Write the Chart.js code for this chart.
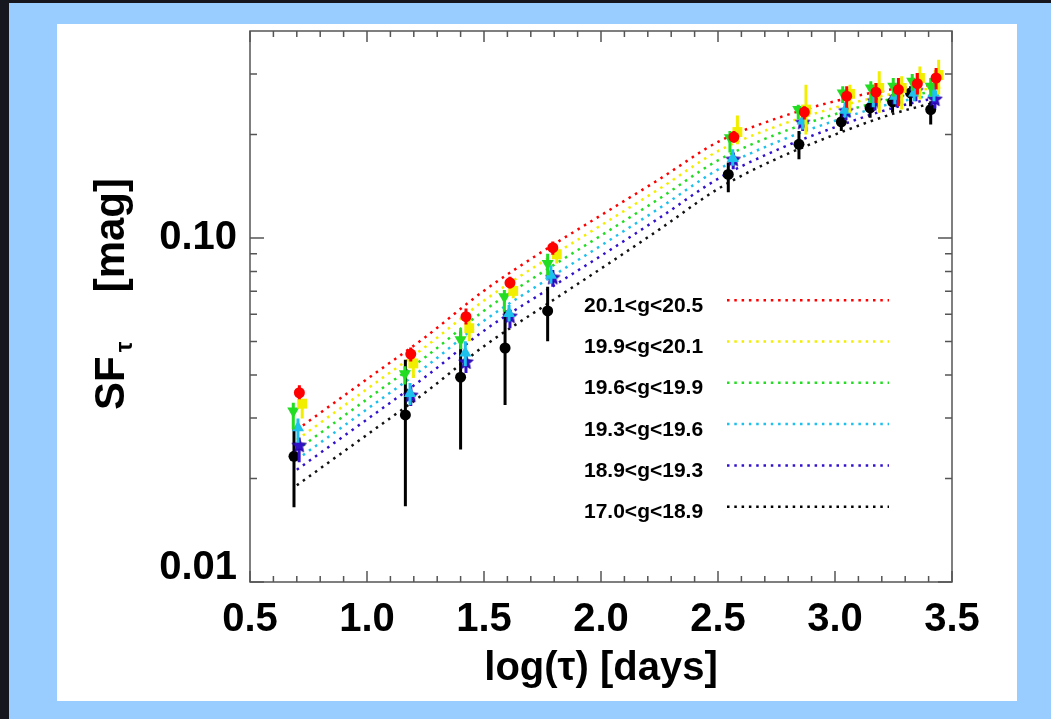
<!DOCTYPE html>
<html>
<head>
<meta charset="utf-8">
<script src="https://cdn.jsdelivr.net/npm/chart.js@4.4.0/dist/chart.umd.min.js"></script>
<style>
  html, body { margin: 0; padding: 0; background: #16161f; width: 1051px; height: 719px; overflow: hidden; }
  #frame { position: absolute; left: 9px; top: 3px; width: 1042px; height: 716px; background: #99ccff; }
  #panel { position: absolute; left: 57px; top: 24px; width: 960px; height: 677px; background: #fff; }
</style>
</head>
<body>
<div id="frame"></div>
<div id="panel"><canvas id="sf"></canvas></div>
<script>
// --- magnitude bins (legend order) ---
const binLabels = ['20.1<g<20.5', '19.9<g<20.1', '19.6<g<19.9', '19.3<g<19.6', '18.9<g<19.3', '17.0<g<18.9'];

// --- measured SF per bin: x = log(tau), y = SF, lo/hi = error bar ends ---
const redX   = [0.711, 1.187, 1.423, 1.611, 1.794, 2.568, 2.869, 3.050, 3.175, 3.271, 3.352, 3.432];
const redY   = [0.0355, 0.0460, 0.0591, 0.0741, 0.0938, 0.1967, 0.2324, 0.2585, 0.2655, 0.2702, 0.2811, 0.2920];
const redLo  = [0.0340, 0.0438, 0.0561, 0.0714, 0.0895, 0.1894, 0.2212, 0.2391, 0.2472, 0.2418, 0.2613, 0.2702];
const redHi  = [0.0373, 0.0481, 0.0624, 0.0772, 0.0978, 0.2048, 0.2418, 0.2763, 0.2825, 0.2920, 0.3019, 0.3121];

const yelX   = [0.723, 1.198, 1.437, 1.625, 1.811, 2.583, 2.876, 3.064, 3.189, 3.285, 3.363, 3.443];
const yelY   = [0.0330, 0.0432, 0.0547, 0.0702, 0.0897, 0.2034, 0.2364, 0.2626, 0.2732, 0.2732, 0.2920, 0.2979];
const yelLo  = [0.0299, 0.0392, 0.0501, 0.0668, 0.0843, 0.1873, 0.2002, 0.2313, 0.2313, 0.2364, 0.2527, 0.2613];
const yelHi  = [0.0340, 0.0448, 0.0580, 0.0734, 0.0936, 0.2272, 0.2793, 0.2793, 0.3053, 0.2953, 0.3156, 0.3298];

const grnX   = [0.685, 1.162, 1.400, 1.587, 1.772, 2.551, 2.843, 3.033, 3.153, 3.249, 3.330, 3.409];
const grnY   = [0.0314, 0.0403, 0.0506, 0.0675, 0.0843, 0.1958, 0.2364, 0.2642, 0.2732, 0.2763, 0.2857, 0.2763];
const grnLo  = [0.0278, 0.0375, 0.0475, 0.0611, 0.0780, 0.1773, 0.2212, 0.2472, 0.2472, 0.2580, 0.2680, 0.2580];
const grnHi  = [0.0332, 0.0424, 0.0543, 0.0706, 0.0901, 0.2048, 0.2443, 0.2763, 0.2857, 0.2920, 0.3000, 0.2920];

const cyaX   = [0.705, 1.184, 1.420, 1.607, 1.786, 2.563, 2.862, 3.043, 3.164, 3.256, 3.338, 3.423];
const cyaY   = [0.0281, 0.0353, 0.0463, 0.0604, 0.0780, 0.1703, 0.2189, 0.2355, 0.2527, 0.2585, 0.2642, 0.2642];
const cyaLo  = [0.0254, 0.0327, 0.0424, 0.0572, 0.0738, 0.1622, 0.2069, 0.2240, 0.2400, 0.2450, 0.2500, 0.2500];
const cyaHi  = [0.0299, 0.0379, 0.0501, 0.0639, 0.0834, 0.1812, 0.2313, 0.2480, 0.2660, 0.2720, 0.2790, 0.2790];

const bluX   = [0.710, 1.187, 1.423, 1.611, 1.794, 2.565, 2.862, 3.047, 3.171, 3.264, 3.346, 3.427];
const bluY   = [0.0249, 0.0348, 0.0435, 0.0591, 0.0766, 0.1689, 0.2164, 0.2339, 0.2500, 0.2556, 0.2677, 0.2527];
const bluLo  = [0.0223, 0.0325, 0.0405, 0.0547, 0.0722, 0.1586, 0.2048, 0.2200, 0.2350, 0.2400, 0.2500, 0.2380];
const bluHi  = [0.0263, 0.0372, 0.0468, 0.0619, 0.0807, 0.1773, 0.2287, 0.2480, 0.2650, 0.2720, 0.2850, 0.2680];

const blkX   = [0.688, 1.164, 1.400, 1.590, 1.772, 2.544, 2.846, 3.027, 3.150, 3.246, 3.323, 3.409];
const blkY   = [0.0232, 0.0306, 0.0394, 0.0479, 0.0614, 0.1531, 0.1873, 0.2178, 0.2391, 0.2489, 0.2642, 0.2364];
const blkLo  = [0.0165, 0.0166, 0.0243, 0.0327, 0.0501, 0.1358, 0.1695, 0.2048, 0.2237, 0.2313, 0.2418, 0.2140];
const blkHi  = [0.0281, 0.0443, 0.0535, 0.0618, 0.0722, 0.1659, 0.2048, 0.2313, 0.2527, 0.2613, 0.2763, 0.2500];

// --- model curves (dotted), read at these log(tau) values ---
const modelX   = [0.70, 1.00, 1.25, 1.50, 1.75, 2.00, 2.25, 2.50, 2.75, 3.00, 3.25, 3.45];
const redFit   = [0.0277, 0.0389, 0.0516, 0.0703, 0.0914, 0.1165, 0.1484, 0.1904, 0.2227, 0.2500, 0.2714, 0.2800];
const yelFit   = [0.0259, 0.0364, 0.0483, 0.0658, 0.0853, 0.1089, 0.1391, 0.1790, 0.2112, 0.2394, 0.2630, 0.2742];
const grnFit   = [0.0242, 0.0340, 0.0451, 0.0615, 0.0796, 0.1017, 0.1303, 0.1683, 0.2003, 0.2292, 0.2548, 0.2685];
const cyaFit   = [0.0227, 0.0318, 0.0422, 0.0575, 0.0743, 0.0951, 0.1222, 0.1582, 0.1900, 0.2194, 0.2469, 0.2629];
const bluFit   = [0.0212, 0.0297, 0.0395, 0.0538, 0.0693, 0.0888, 0.1145, 0.1487, 0.1802, 0.2100, 0.2392, 0.2575];
const blkFit   = [0.0191, 0.0268, 0.0356, 0.0485, 0.0630, 0.0815, 0.1060, 0.1390, 0.1700, 0.2000, 0.2300, 0.2500];

// --- axis ticks ---
const xLabelTicks = [0.5, 1.0, 1.5, 2.0, 2.5, 3.0, 3.5];
const xMinorTicks = [0.6, 0.7, 0.8, 0.9, 1.1, 1.2, 1.3, 1.4, 1.6, 1.7, 1.8, 1.9, 2.1, 2.2, 2.3, 2.4,
                     2.6, 2.7, 2.8, 2.9, 3.1, 3.2, 3.3, 3.4];
const yLabelTicks = [0.01, 0.1];
const yMinorTicks = [0.02, 0.03, 0.04, 0.05, 0.06, 0.07, 0.08, 0.09, 0.2, 0.3];

const COLORS = {
  red:    '#ff0000',
  yellow: '#f2ee00',
  green:  '#22dd22',
  cyan:   '#1ec0ec',
  blue:   '#3311cc',
  black:  '#000000',
};

function makeStar(r, color) {
  const c = document.createElement('canvas');
  const s = Math.ceil(r * 2 + 2);
  c.width = c.height = s;
  const g = c.getContext('2d');
  g.beginPath();
  for (let i = 0; i < 10; i++) {
    const rr = i % 2 ? r * 0.45 : r;
    const a = -Math.PI / 2 + i * Math.PI / 5;
    g.lineTo(s / 2 + rr * Math.cos(a), s / 2 + rr * Math.sin(a));
  }
  g.closePath();
  g.fillStyle = color;
  g.fill();
  g.lineWidth = 1;
  g.strokeStyle = '#22009a';
  g.stroke();
  return c;
}

const pts = (xs, ys) => xs.map((x, i) => ({ x, y: ys[i] }));
const bars = (xs, lo, hi) => xs.flatMap((x, i) => [{ x, y: lo[i] }, { x, y: hi[i] }, { x, y: null }]);

const series = [
  { key: 'red',    x: redX, y: redY, lo: redLo, hi: redHi, fit: redFit, style: 'circle',   radius: 5.5, rot: 0 },
  { key: 'yellow', x: yelX, y: yelY, lo: yelLo, hi: yelHi, fit: yelFit, style: 'rect',     radius: 7,   rot: 0 },
  { key: 'green',  x: grnX, y: grnY, lo: grnLo, hi: grnHi, fit: grnFit, style: 'triangle', radius: 7,   rot: 180 },
  { key: 'cyan',   x: cyaX, y: cyaY, lo: cyaLo, hi: cyaHi, fit: cyaFit, style: 'triangle', radius: 7,   rot: 0 },
  { key: 'blue',   x: bluX, y: bluY, lo: bluLo, hi: bluHi, fit: bluFit, style: makeStar(7.5, COLORS.blue), radius: 7, rot: 0 },
  { key: 'black',  x: blkX, y: blkY, lo: blkLo, hi: blkHi, fit: blkFit, style: 'circle',   radius: 5.5, rot: 0 },
];

const datasets = [];
series.forEach((s, i) => {
  const col = COLORS[s.key];
  datasets.push({
    label: binLabels[i],
    data: pts(s.x, s.y),
    pointStyle: s.style,
    pointRadius: s.radius,
    pointRotation: s.rot,
    backgroundColor: col,
    borderColor: col,
    pointBorderWidth: 0,
    order: 10 * i + 1,
  });
  datasets.push({
    label: binLabels[i] + ' err',
    data: bars(s.x, s.lo, s.hi),
    showLine: true,
    spanGaps: false,
    pointRadius: 0,
    borderColor: col,
    borderWidth: 3,
    order: 10 * i + 2,
  });
  datasets.push({
    label: binLabels[i] + ' fit',
    data: pts(modelX, s.fit),
    showLine: true,
    pointRadius: 0,
    borderColor: col === '#000000' ? '#111' : col,
    borderWidth: 2.5,
    borderDash: [2.5, 5],
    cubicInterpolationMode: 'monotone',
    order: 100 + i,
  });
});

// frame with inward ticks, like the original plot
const frameTicks = {
  id: 'frameTicks',
  beforeDatasetsDraw(chart) {
    const { ctx, chartArea: a, scales: { x, y } } = chart;
    ctx.save();
    ctx.strokeStyle = '#555';
    ctx.lineWidth = 1.5;
    ctx.strokeRect(a.left, a.top, a.right - a.left, a.bottom - a.top);
    ctx.beginPath();
    const xt = (v, len) => {
      const px = x.getPixelForValue(v);
      ctx.moveTo(px, a.bottom); ctx.lineTo(px, a.bottom - len);
      ctx.moveTo(px, a.top);    ctx.lineTo(px, a.top + len);
    };
    const yt = (v, len) => {
      const py = y.getPixelForValue(v);
      ctx.moveTo(a.left, py);  ctx.lineTo(a.left + len, py);
      ctx.moveTo(a.right, py); ctx.lineTo(a.right - len, py);
    };
    xLabelTicks.forEach(v => xt(v, 11));
    xMinorTicks.forEach(v => xt(v, 6));
    yLabelTicks.forEach(v => yt(v, 14));
    yMinorTicks.forEach(v => yt(v, 7));
    ctx.stroke();
    ctx.restore();
  }
};

// legend: label on the left, dotted sample on the right
const sideLegend = {
  id: 'sideLegend',
  afterDatasetsDraw(chart) {
    const { ctx } = chart;
    ctx.save();
    ctx.font = 'bold 21px "Liberation Sans", Arial, sans-serif';
    ctx.textBaseline = 'alphabetic';
    ctx.fillStyle = '#000';
    series.forEach((s, i) => {
      const base = 287.7 + i * 41.3;
      ctx.fillText(binLabels[i], 527, base);
      ctx.beginPath();
      ctx.setLineDash([2.5, 4.8]);
      ctx.lineWidth = 2.5;
      ctx.strokeStyle = COLORS[s.key];
      ctx.moveTo(670, base - 11.5);
      ctx.lineTo(832, base - 11.5);
      ctx.stroke();
    });
    ctx.restore();
  }
};

// y title: SF with subscript tau, then [mag], rotated
const yTitle = {
  id: 'yTitle',
  afterDraw(chart) {
    const { ctx } = chart;
    ctx.save();
    ctx.rotate(-Math.PI / 2);
    ctx.fillStyle = '#000';
    ctx.textBaseline = 'alphabetic';
    ctx.font = 'bold 42px "Liberation Sans", Arial, sans-serif';
    ctx.fillText('SF', -386, 67);
    const w = ctx.measureText('SF').width;
    ctx.font = 'bold 24px "Liberation Sans", Arial, sans-serif';
    ctx.fillText('\u03c4', -386 + w + 4, 75);
    ctx.font = 'bold 42px "Liberation Sans", Arial, sans-serif';
    ctx.textAlign = 'right';
    ctx.fillText('[mag]', -154, 67);
    ctx.restore();
  }
};

const FONT = '"Liberation Sans", Arial, Helvetica, sans-serif';

new Chart(document.getElementById('sf'), {
  type: 'scatter',
  data: { datasets },
  options: {
    responsive: true,
    maintainAspectRatio: false,
    animation: false,
    layout: { padding: { top: 4, right: 65, left: 0, bottom: 0 } },
    plugins: { legend: { display: false }, tooltip: { enabled: false } },
    scales: {
      x: {
        type: 'linear',
        min: 0.5,
        max: 3.5,
        grid: { display: false, drawTicks: false },
        border: { display: false },
        afterBuildTicks: s => { s.ticks = xLabelTicks.map(v => ({ value: v })); },
        afterFit: s => { s.height = 119; s.paddingLeft = 0; s.paddingRight = 0; },
        ticks: {
          padding: 14,
          color: '#000',
          font: { family: FONT, size: 40, weight: 'bold' },
          callback: v => v.toFixed(1),
          maxRotation: 0,
        },
        title: {
          display: true,
          text: 'log(\u03c4) [days]',
          color: '#000',
          font: { family: FONT, size: 40, weight: 'bold' },
          padding: { top: 0, bottom: 8 },
        },
      },
      y: {
        type: 'logarithmic',
        min: 0.01,
        max: 0.4,
        grid: { display: false, drawTicks: false },
        border: { display: false },
        afterBuildTicks: s => { s.ticks = yLabelTicks.map(v => ({ value: v })); },
        afterFit: s => { s.width = 193; s.paddingTop = 0; s.paddingBottom = 0; },
        ticks: {
          padding: 13,
          color: '#000',
          font: { family: FONT, size: 40, weight: 'bold', lineHeight: 0.7 },
          callback: v => (v === 0.01 ? ['0.01', ''] : '0.10'),
        },
      },
    },
  },
  plugins: [frameTicks, sideLegend, yTitle],
});
</script>
</body>
</html>
